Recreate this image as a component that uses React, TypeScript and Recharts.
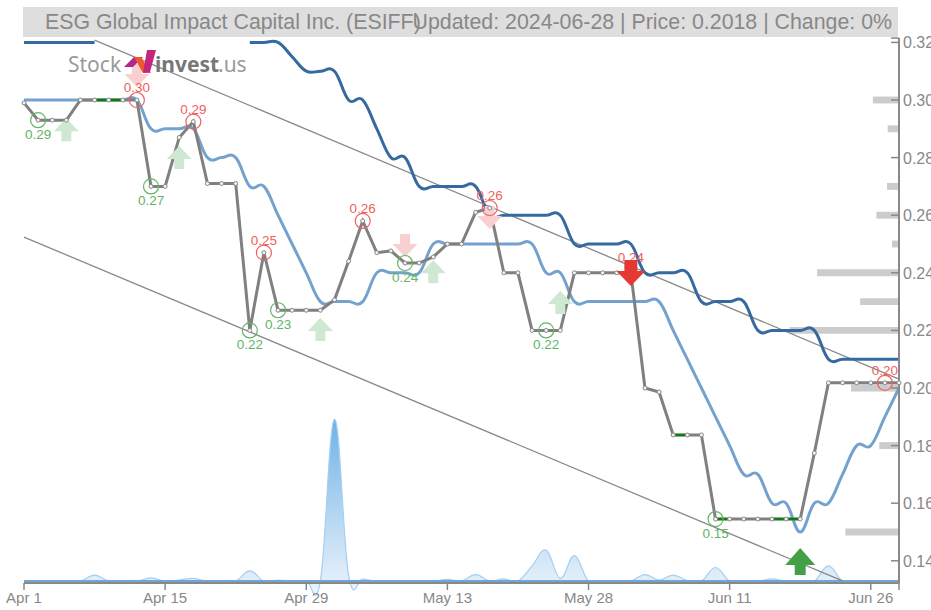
import {
  Area,
  ComposedChart,
  Line,
  ReferenceArea,
  ReferenceLine,
  XAxis,
  YAxis,
} from "recharts";

const title = "ESG Global Impact Capital Inc. (ESIFF)";
const updated = "Updated: 2024-06-28 | Price: 0.2018 | Change: 0%";

const dateTicks = [0, 10, 20, 30, 40, 50, 60, 62];
const dateLabels = ["Apr 1", "Apr 15", "Apr 29", "May 13", "May 28", "Jun 11", "Jun 26", ""];
const priceTicks = [0.14, 0.16, 0.18, 0.2, 0.22, 0.24, 0.26, 0.28, 0.3, 0.32, 0.3215];

// closing price, one per trading day
const price = [
  0.299, 0.293, 0.293, 0.293, 0.3, 0.3, 0.3, 0.3, 0.3, 0.27, 0.27, 0.287, 0.2925, 0.271, 0.271, 0.271,
  0.22, 0.247, 0.227, 0.227, 0.227, 0.227, 0.2306, 0.244, 0.258, 0.247, 0.2476, 0.2434, 0.2434, 0.2455,
  0.25, 0.25, 0.261, 0.2625, 0.24, 0.24, 0.22, 0.22, 0.22, 0.24, 0.24, 0.24, 0.24, 0.24, 0.2, 0.1986,
  0.1837, 0.1837, 0.1837, 0.1545, 0.1545, 0.1545, 0.1545, 0.1545, 0.1545, 0.1545, 0.1774, 0.2018, 0.2018,
  0.2018, 0.2018, 0.2018, 0.2018,
];

const shortAvg = [
  0.3, 0.3, 0.3, 0.3, 0.3, 0.3, 0.3, 0.3, 0.3, 0.29, 0.29, 0.29, 0.29, 0.28, 0.28, 0.28, 0.27, 0.27, 0.26,
  0.25, 0.24, 0.23, 0.23, 0.23, 0.23, 0.24, 0.24, 0.24, 0.24, 0.25, 0.25, 0.25, 0.25, 0.25, 0.25, 0.25, 0.25,
  0.24, 0.24, 0.23, 0.23, 0.23, 0.23, 0.23, 0.23, 0.23, 0.22, 0.21, 0.2, 0.19, 0.18, 0.17, 0.17, 0.16, 0.16,
  0.15, 0.16, 0.16, 0.17, 0.18, 0.18, 0.19, 0.2,
];

const longAvg = [
  0.32, 0.32, 0.32, 0.32, 0.32, 0.32, null, null, null, null, null, null, null, null, null, null, 0.32, 0.32,
  0.32, 0.315, 0.31, 0.31, 0.31, 0.3, 0.3, 0.29, 0.28, 0.28, 0.27, 0.27, 0.27, 0.27, 0.27, 0.26, 0.26, 0.26,
  0.26, 0.26, 0.26, 0.25, 0.25, 0.25, 0.25, 0.25, 0.24, 0.24, 0.24, 0.24, 0.23, 0.23, 0.23, 0.23, 0.22, 0.22,
  0.22, 0.22, 0.22, 0.21, 0.21, 0.21, 0.21, 0.21, 0.21,
];

const volume = [
  0, 0, 0, 0, 0, 11, 0, 0, 0, 6, 0, 2, 5, 0, 0, 0, 19, 0, 2, 0, 0, 0, 298, 11, 4, 0, 0, 1, 0, 0, 3, 0, 12, 0,
  4, 0, 28, 57, 5, 47, 0, 0, 0, 0, 12, 2, 11, 1, 0, 25, 0, 0, 0, 4, 0, 0, 0, 28, 0, 0, 0, 0, 0,
];

// flat stretches the source paints green
const flatDays = [5, 6, 7, 46, 47, 49, 50, 53, 54, 55];

const highDays = [8, 12, 17, 24, 33, 61];
const highLabels = ["0.30", "0.29", "0.25", "0.26", "0.26", "0.20"];
const lowDays = [1, 9, 16, 18, 27, 37, 49];
const lowLabels = ["0.29", "0.27", "0.22", "0.23", "0.24", "0.22", "0.15"];

const paleUpDays = [3, 11, 21, 29, 38];
const paleUpTips = [0.2937, 0.284, 0.2243, 0.2444, 0.2337];
const paleDownDays = [8, 27, 33];
const paleDownTips = [0.3045, 0.2455, 0.2552];
const sellDay = 43;
const sellTip = 0.2354;
const sellLabel = "0.24";
const buyDay = 55;
const buyTip = 0.1444;

const trendUpper = [[5, 0.3208], [62, 0.2031]];
const trendLower = [[0, 0.2524], [58, 0.133]];

const levelPrices = [0.3, 0.29, 0.27, 0.26, 0.25, 0.24, 0.23, 0.22, 0.2, 0.18, 0.15];
const levelDepths = [1.85, 0.8, 0.85, 1.6, 0.5, 5.8, 2.75, 7.75, 3.4, 1.4, 3.8];

const pick = (days: number[], values: any[], i: number) => {
  const at = days.indexOf(i);
  return at < 0 ? null : values[at];
};
const fromPairs = (pairs: number[][], i: number) => {
  const hit = pairs.find((p) => p[0] === i);
  return hit ? hit[1] : null;
};

const rows = price.map((p, i) => ({
  i,
  price: p,
  flat: flatDays.includes(i) ? p : null,
  short: shortAvg[i],
  long: longAvg[i],
  volume: volume[i],
  high: highDays.includes(i) ? p : null,
  highLabel: pick(highDays, highLabels, i),
  low: lowDays.includes(i) ? p : null,
  lowLabel: pick(lowDays, lowLabels, i),
  paleUp: pick(paleUpDays, paleUpTips, i),
  paleDown: pick(paleDownDays, paleDownTips, i),
  sell: i === sellDay ? sellTip : null,
  buy: i === buyDay ? buyTip : null,
  upper: fromPairs(trendUpper, i),
  lower: fromPairs(trendLower, i),
}));

// same kind of spline the source uses, it overshoots a bit at each step
const splineCurve = (context: any) => {
  let pts: number[][] = [];
  let mode = NaN;
  const k = 0.2;
  return {
    areaStart() {
      mode = 0;
    },
    areaEnd() {
      mode = NaN;
    },
    lineStart() {
      pts = [];
    },
    lineEnd() {
      pts.forEach((p, n) => {
        if (n === 0) {
          if (mode === 1) context.lineTo(p[0], p[1]);
          else context.moveTo(p[0], p[1]);
          return;
        }
        const a = pts[n - 1];
        const before = pts[n - 2] || a;
        const after = pts[n + 1] || p;
        context.bezierCurveTo(
          a[0] + (p[0] - before[0]) * k,
          a[1] + (p[1] - before[1]) * k,
          p[0] - (after[0] - a[0]) * k,
          p[1] - (after[1] - a[1]) * k,
          p[0],
          p[1],
        );
      });
      if (mode === 1) context.closePath();
      mode = 1 - mode;
    },
    point(x: number, y: number) {
      pts.push([x, y]);
    },
  };
};

const arrowPath = (cx: number, cy: number, dir: number, w: number, head: number, shaft: number, tail: number) =>
  `M${cx} ${cy}L${cx + w} ${cy + dir * head}L${cx + shaft} ${cy + dir * head}L${cx + shaft} ${cy + dir * tail}` +
  `L${cx - shaft} ${cy + dir * tail}L${cx - shaft} ${cy + dir * head}L${cx - w} ${cy + dir * head}Z`;

const arrowDot = (dir: number, fill: string, w: number, head: number, shaft: number, tail: number) => (props: any) => {
  if (props.value == null || props.cy == null) return <g key={props.key} />;
  return <path key={props.key} d={arrowPath(props.cx, props.cy, dir, w, head, shaft, tail)} fill={fill} />;
};

const pivotDot = (color: string, labelKey: string, dy: number) => (props: any) => {
  if (props.value == null || props.cy == null) return <g key={props.key} />;
  return (
    <g key={props.key}>
      <circle cx={props.cx} cy={props.cy} r={7.5} fill="none" stroke={color} strokeWidth={1.2} />
      <text x={props.cx} y={props.cy + dy} textAnchor="middle" fontSize={13.5} fill={color}>
        {props.payload[labelKey]}
      </text>
    </g>
  );
};

const priceDot = (props: any) => (
  <circle key={props.key} cx={props.cx} cy={props.cy} r={2} fill="#f4f4f4" stroke="#888" strokeWidth={1} />
);

const sellMark = (props: any) => {
  if (props.value == null || props.cy == null) return <g key={props.key} />;
  return (
    <g key={props.key}>
      <text x={props.cx} y={props.cy - 24} textAnchor="middle" fontSize={13.5} fill="#f06060">
        {sellLabel}
      </text>
      <path d={arrowPath(props.cx, props.cy, -1, 14.5, 15, 6.5, 26)} fill="#e53935" />
    </g>
  );
};

const PriceTick = (props: any) => {
  const { x, y, payload } = props;
  const isEnd = payload.value > 0.3205;
  return (
    <g>
      <line x1={x - 8} x2={x} y1={y} y2={y} stroke="#888" strokeWidth={1.5} />
      {!isEnd && (
        <text x={x + 4} y={y + 6} fontSize={16} fill="#888">
          {payload.value.toFixed(2)}
        </text>
      )}
    </g>
  );
};

export default function App() {
  return (
    <div style={{ position: "absolute", left: 0, top: 0, width: 931, height: 610, overflow: "hidden", fontFamily: "'Liberation Sans', sans-serif" }}>
      <ComposedChart
        width={931}
        height={610}
        data={rows}
        margin={{ top: 38, right: 0, left: 24, bottom: 0 }}
        style={{ fontFamily: "'Liberation Sans', sans-serif" }}
      >
        <defs>
          <linearGradient id="volumeFill" x1="0" y1="0" x2="0" y2="1">
            <stop offset="0%" stopColor="#6fb1e6" />
            <stop offset="100%" stopColor="#eef5fc" />
          </linearGradient>
        </defs>
        <XAxis
          dataKey="i"
          type="number"
          domain={[0, 62]}
          ticks={dateTicks}
          interval={0}
          height={27}
          tickSize={7}
          tickMargin={2}
          tick={{ fill: "#888", fontSize: 15 }}
          tickFormatter={(v: number) => dateLabels[dateTicks.indexOf(v)]}
          axisLine={{ stroke: "#888", strokeWidth: 2 }}
          tickLine={{ stroke: "#888", strokeWidth: 1.5 }}
        />
        <YAxis
          yAxisId="price"
          orientation="right"
          type="number"
          domain={[0.13229, 0.32153]}
          ticks={priceTicks}
          interval={0}
          width={32}
          tickSize={0}
          tickMargin={0}
          tickLine={false}
          axisLine={{ stroke: "#888", strokeWidth: 2 }}
          tick={<PriceTick />}
        />
        <YAxis yAxisId="vol" hide type="number" domain={[-3.5, 1000]} />

        {levelPrices.map((level, n) => (
          <ReferenceArea
            key={level}
            yAxisId="price"
            x1={62 - levelDepths[n]}
            x2={62}
            y1={level - 0.0012}
            y2={level + 0.0012}
            fill="#cccccc"
            fillOpacity={1}
            stroke="none"
          />
        ))}

        <Area
          yAxisId="vol"
          dataKey="volume"
          type={splineCurve as any}
          stroke="#a3cff2"
          strokeWidth={1.2}
          fill="url(#volumeFill)"
          fillOpacity={1}
          baseValue={0}
          dot={false}
          activeDot={false}
          isAnimationActive={false}
        />
        <ReferenceLine yAxisId="vol" y={0} stroke="#6ea6d8" strokeWidth={2} />

        <Line yAxisId="price" dataKey="upper" connectNulls stroke="#888" strokeWidth={1.3} dot={false} activeDot={false} isAnimationActive={false} />
        <Line yAxisId="price" dataKey="lower" connectNulls stroke="#888" strokeWidth={1.3} dot={false} activeDot={false} isAnimationActive={false} />

        <Line yAxisId="price" dataKey="paleUp" stroke="none" dot={arrowDot(1, "#cfe8d1", 12.5, 13, 5, 23) as any} activeDot={false} isAnimationActive={false} />
        <Line yAxisId="price" dataKey="paleDown" stroke="none" dot={arrowDot(-1, "#f9d0d0", 12.5, 13, 5, 23) as any} activeDot={false} isAnimationActive={false} />

        <Line yAxisId="price" dataKey="long" type={splineCurve as any} stroke="#35699f" strokeWidth={3} dot={false} activeDot={false} isAnimationActive={false} />
        <Line yAxisId="price" dataKey="short" type={splineCurve as any} stroke="#74a2cd" strokeWidth={3} dot={false} activeDot={false} isAnimationActive={false} />

        <Line yAxisId="price" dataKey="price" stroke="#808080" strokeWidth={3} dot={false} activeDot={false} isAnimationActive={false} />
        <Line yAxisId="price" dataKey="flat" stroke="#0a7d0a" strokeWidth={2.5} dot={false} activeDot={false} isAnimationActive={false} />
        <Line yAxisId="price" dataKey="price" stroke="none" dot={priceDot as any} activeDot={false} isAnimationActive={false} />

        <Line yAxisId="price" dataKey="high" stroke="none" dot={pivotDot("#f06060", "highLabel", -8) as any} activeDot={false} isAnimationActive={false} />
        <Line yAxisId="price" dataKey="low" stroke="none" dot={pivotDot("#62b566", "lowLabel", 19) as any} activeDot={false} isAnimationActive={false} />

        <Line yAxisId="price" dataKey="sell" stroke="none" dot={sellMark as any} activeDot={false} isAnimationActive={false} />
        <Line yAxisId="price" dataKey="buy" stroke="none" dot={arrowDot(1, "#43a047", 15, 17, 5.5, 27) as any} activeDot={false} isAnimationActive={false} />
      </ComposedChart>

      <div style={{ position: "absolute", left: 23, top: 7, width: 875, height: 30, background: "#dedede", color: "#888", fontSize: 21.33, lineHeight: "30px", whiteSpace: "nowrap" }}>
        <span style={{ position: "absolute", left: 22 }}>{title}</span>
        <span style={{ position: "absolute", right: 6 }}>{updated}</span>
      </div>

      <svg width={190} height={40} style={{ position: "absolute", left: 60, top: 44 }}>
        <text x={8} y={28} fontSize={21} fill="#9a9a9a" fontFamily="'Noto Sans', sans-serif">Stock</text>
        <polygon points="64,23 73,23 83,13 74,13" fill="#b5268f" />
        <polygon points="74,13 81,13 91,29 83,29" fill="#f0562b" />
        <polygon points="83,29 90,28 96,6 87,6" fill="#c2267f" />
        <text x={95} y={28} fontSize={21} fontWeight={700} fill="#777" fontFamily="'Noto Sans', sans-serif">invest</text>
        <text x={158} y={28} fontSize={21} fill="#9a9a9a" fontFamily="'Noto Sans', sans-serif">.us</text>
      </svg>
    </div>
  );
}
